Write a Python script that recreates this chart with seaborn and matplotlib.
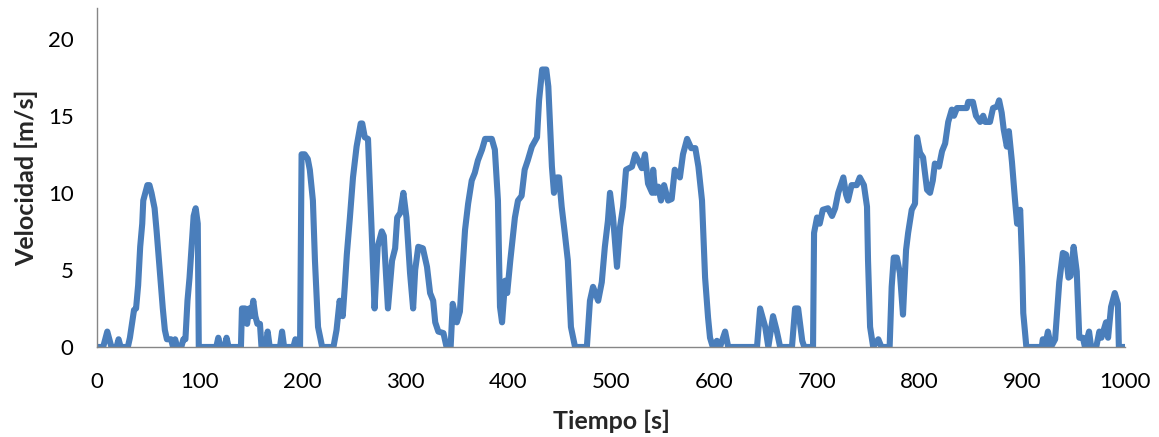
import matplotlib
matplotlib.use("Agg")
import matplotlib.pyplot as plt
import seaborn as sns
import pandas as pd

# Puntos (tiempo en s, velocidad en m/s)
tiempo = [
    0, 6, 8, 10, 12, 14, 19, 21, 23, 30, 32, 34, 36, 38, 40, 42, 44, 45, 47, 49,
    51, 53, 56, 58, 61, 64, 66, 68, 72, 74, 76, 78, 82, 84, 86, 88, 90, 92, 94, 96,
    97, 98, 99,
    100, 116, 118, 120, 124, 126, 128, 140, 141, 144, 146, 148, 150, 152, 154, 156,
    158.5, 160, 164, 166, 168, 178, 180, 182, 191, 193, 195, 197.5,
    199, 202, 205, 207, 210, 212, 215, 219, 230, 233, 236, 239, 241, 243, 246, 249,
    252.5, 256.5, 258, 260.5, 263.6, 267, 270, 273, 277, 279, 281, 283, 287, 290,
    292, 295, 298, 301, 304.5, 307.5, 309.5, 312.5, 317, 321, 324, 327, 329, 332,
    337, 340, 344, 346, 350, 353, 355, 358, 361, 364.5, 367.5, 370.5, 374.5, 377.5,
    384, 387, 390, 392, 394, 397, 399,
    402, 406.5, 409.5, 413, 416, 419, 423, 428, 430, 433, 437, 439, 442.5, 444.5,
    447.5, 449.5, 452, 455, 458, 461, 465, 476.5, 479.5, 482.5, 487.5, 491, 494,
    497, 499,
    502, 505.8, 508.8, 511.7, 514.6, 520.4, 523.5, 526.5, 530, 533, 536, 540, 541,
    543, 546, 548.6, 551.6, 555.5, 559, 562, 567, 570, 574, 578, 582, 585, 588.5,
    591.5, 594.4, 596.3, 599,
    603, 606, 611, 614, 642, 645, 650, 653, 657.6, 661, 664.5, 676, 679, 682, 686,
    688, 696.5, 697.5,
    700.4, 703, 706, 711, 715, 718, 721, 726, 728.6, 730.5, 734, 739, 742, 746, 749,
    750, 752, 755, 760, 763, 771, 773, 775, 778, 781, 784, 787, 789, 792.5, 795.7,
    797.7,
    800.6, 803.5, 807.4, 810.3, 813, 815, 819, 822, 825, 828, 831.5, 833.6, 836.5,
    846, 847.5, 852, 855, 859, 862, 864, 868.6, 871.6, 875.5, 877.5, 880, 882, 885,
    887, 890, 893, 895, 898,
    900, 901, 904, 919, 920, 922, 925, 928, 932, 936, 939.5, 942.6, 945, 947, 950,
    953, 955.5, 959, 961, 965, 967, 972, 975, 977, 981.5, 983.5, 986.4, 990, 993,
    994, 1000,
]

velocidad = [
    0, 0, 0.5, 1, 0.5, 0, 0, 0.5, 0, 0, 0.6, 1.5, 2.4, 2.5, 4, 6.5, 8, 9.5, 10, 10.5,
    10.5, 10, 9, 7.5, 5, 2.5, 1.1, 0.5, 0.5, 0, 0.5, 0, 0, 0.5, 0.5, 3, 4.5, 6.5, 8.5, 9,
    8.5, 8, 0,
    0, 0, 0.6, 0, 0, 0.6, 0, 0, 2.5, 2.5, 1.5, 2.5, 2, 3, 2, 1.5,
    1.5, 0, 0, 1, 0, 0, 1, 0, 0, 0.5, 0, 0,
    12.5, 12.5, 12.2, 11.5, 9.5, 5.6, 1.3, 0, 0, 1.1, 3, 2, 3.9, 6, 8.4, 11,
    13, 14.5, 14.5, 13.6, 13.5, 7.8, 2.5, 6.5, 7.5, 7.2, 4.8, 2.5, 5.6, 6.4,
    8.4, 8.7, 10, 8.4, 4.8, 2.5, 5, 6.5, 6.4, 5.2, 3.5, 3, 1.6, 1,
    0.9, 0, 0, 2.8, 1.6, 2.3, 4.5, 7.6, 9.3, 10.8, 11.3, 12.1, 12.8, 13.5,
    13.5, 12.8, 9.5, 2.6, 1.6, 4.3, 3.5,
    5.6, 8.4, 9.5, 9.8, 11.5, 12.1, 13, 13.6, 16, 18, 18, 16.9, 11.7, 10,
    11, 11, 9.1, 7.4, 5.6, 1.3, 0, 0, 3, 3.9, 3, 4.2, 6.5,
    8.2, 10,
    8.4, 5.2, 7.8, 9.1, 11.5, 11.7, 12.5, 12.1, 11.6, 12.5, 10.6, 10, 11.5,
    10, 10.4, 9.5, 10.5, 9.5, 9.6, 11.5, 11, 12.5, 13.5, 12.9, 12.9, 11.7, 9.5,
    4.5, 1.9, 0.6, 0,
    0.4, 0, 1, 0, 0, 2.5, 1.3, 0, 2, 1.1, 0, 0, 2.5, 2.5, 0.4,
    0, 0, 7.4,
    8.4, 8, 8.9, 9, 8.5, 9, 10, 11, 9.9, 9.5, 10.5, 10.5, 11, 10.5, 9.1,
    5.6, 1.3, 0, 0.5, 0, 0, 3.9, 5.8, 5.8, 4.8, 2.1, 6.3, 7.4, 8.9, 9.3,
    13.6,
    12.6, 12.3, 10.2, 10, 10.8, 11.9, 11.7, 12.7, 13.2, 14.6, 15.4, 15, 15.5,
    15.5, 15.9, 15.9, 15, 14.6, 15, 14.6, 14.6, 15.5, 15.6, 16, 15.2, 14.1, 13,
    14, 12, 9.5, 8, 8.9,
    5.2, 2.2, 0, 0, 0.5, 0, 1, 0, 0.5, 4.2, 6.1, 6, 4.5, 4.6, 6.5,
    4.9, 0.6, 0.6, 0, 1, 0, 0, 1, 0.6, 1.6, 0.6, 2.6, 3.5, 2.8,
    0, 0,
]

y_ticks = [0, 5, 10, 15, 20]
x_ticks = [0, 100, 200, 300, 400, 500, 600, 700, 800, 900, 1000]


def main():
    sns.set_style("white")
    plt.rcParams['font.family'] = ['Lato', 'DejaVu Sans']

    df = pd.DataFrame({'Tiempo [s]': tiempo, 'Velocidad [m/s]': velocidad})

    fig = plt.figure(figsize=(11.59, 4.37), dpi=100)
    ax = fig.add_axes([0.0837, 0.206, 0.887, 0.776])

    sns.lineplot(data=df, x='Tiempo [s]', y='Velocidad [m/s]', ax=ax,
                 color='#4A7EBB', linewidth=4.4, sort=False,
                 solid_joinstyle='round', solid_capstyle='round')

    ax.set_xlim(0, 1000)
    ax.set_ylim(0, 22)
    ax.set_xticks(x_ticks)
    ax.set_yticks(y_ticks)
    ax.tick_params(axis='both', labelsize=16, colors='#868686',
                   labelcolor='black', direction='out', length=5.8, width=1)
    ax.tick_params(axis='x', pad=12)
    ax.tick_params(axis='y', pad=11)

    for side in ['top', 'right']:
        ax.spines[side].set_visible(False)
    for side in ['left', 'bottom']:
        ax.spines[side].set_color('#868686')
        ax.spines[side].set_linewidth(1)

    ax.set_xlabel('Tiempo [s]', fontsize=18, fontweight='bold', labelpad=13)
    ax.set_ylabel('Velocidad [m/s]', fontsize=18, fontweight='bold', labelpad=7)

    fig.savefig('out.png', dpi=100)
    plt.close(fig)


if __name__ == "__main__":
    main()
